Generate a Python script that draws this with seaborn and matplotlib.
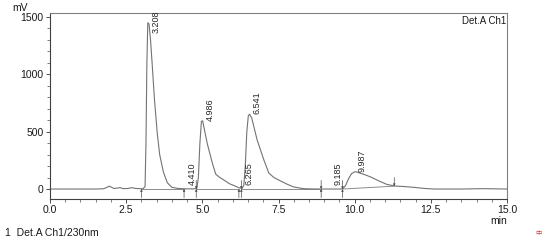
import matplotlib
matplotlib.use("Agg")
import matplotlib.pyplot as plt
import seaborn as sns
import pandas as pd
from matplotlib.ticker import MultipleLocator

# ---- data ----
time_min = [0.0, 1.5, 1.75, 1.85, 1.95, 2.02, 2.1, 2.2, 2.3, 2.4, 2.55, 2.7, 2.8, 2.95,
            3.05, 3.12, 3.15, 3.18, 3.21, 3.25, 3.30, 3.36, 3.43, 3.52, 3.60, 3.72, 3.85,
            4.0, 4.2, 4.4, 4.7, 4.82, 4.87, 4.92, 4.97, 5.01, 5.16, 5.33, 5.44, 5.55,
            5.71, 5.9, 6.04, 6.19, 6.3, 6.36, 6.41, 6.46, 6.51, 6.55, 6.62, 6.80, 7.02,
            7.18, 7.35, 7.57, 7.8, 8.0, 8.32, 8.7, 9.2, 9.55, 9.62, 9.7, 9.8, 9.9, 10.0,
            10.05, 10.3, 10.51, 10.8, 11.06, 11.33, 11.6, 11.93, 12.3, 12.6, 13.5, 14.2, 15.0]
signal_mv = [0, 0, 2, 12, 25, 15, 5, 8, 12, 3, 5, 12, 5, 3,
             2, 20, 400, 1100, 1450, 1440, 1300, 1064, 776, 488, 300, 150, 55,
             15, 5, 2, 1, 5, 100, 400, 590, 595, 398, 224, 130, 105,
             78, 45, 30, 12, 5, 30, 200, 500, 640, 652, 620, 427, 253,
             140, 100, 70, 40, 18, 3, 0, 0, 0, 5, 30, 90, 135, 150,
             150, 128, 107, 70, 40, 26, 22, 15, 5, 0, 0, 3, 0]

peak_rt = [3.208, 4.410, 4.986, 6.265, 6.541, 9.185, 9.987]
peak_label_mv = [1360, 35, 595, 35, 655, 35, 150]

baseline_start = [3.0, 4.8, 6.28, 9.6]
baseline_end = [4.4, 6.2, 8.9, 11.3]
baseline_start_mv = [0, 0, 0, 0]
baseline_end_mv = [0, 0, 0, 25]

up_marks = [3.0, 4.4, 4.8, 6.2, 6.28, 8.9, 9.6]
down_marks = [4.8, 6.28, 8.9, 9.6, 11.3]
down_marks_mv = [0, 0, 0, 0, 25]

df = pd.DataFrame({"time": time_min, "signal": signal_mv})

sns.set_style("ticks")
plt.rcParams["font.family"] = ["Liberation Sans", "DejaVu Sans"]

fig = plt.figure(figsize=(5.44, 2.40), dpi=100)
ax = fig.add_axes([50/544, 1-199/240, 457/544, 186/240])

# integration baselines
for x0, x1, y0, y1 in zip(baseline_start, baseline_end, baseline_start_mv, baseline_end_mv):
    ax.plot([x0, x1], [y0, y1], color="0.55", lw=0.7, zorder=1)

sns.lineplot(data=df, x="time", y="signal", ax=ax, color="0.45", lw=0.8,
             estimator=None, sort=False, zorder=2)

# peak markers
for t in up_marks:
    ax.annotate("", xy=(t, 0), xytext=(t, -75),
                arrowprops=dict(arrowstyle="-|>", lw=0.5, color="0.3", mutation_scale=3,
                                shrinkA=0, shrinkB=0))
for t, yv in zip(down_marks, down_marks_mv):
    ax.annotate("", xy=(t, yv), xytext=(t, yv + 75),
                arrowprops=dict(arrowstyle="-|>", lw=0.5, color="0.3", mutation_scale=3,
                                shrinkA=0, shrinkB=0))

# retention time labels
for rt, yv in zip(peak_rt, peak_label_mv):
    ax.text(rt + 0.26, yv, f"{rt:.3f}", rotation=90, ha="center", va="bottom",
            fontsize=6.5, color="0.15")

ax.set_xlim(0, 15)
ax.set_ylim(-87, 1535)
ax.xaxis.set_major_locator(MultipleLocator(2.5))
ax.xaxis.set_minor_locator(MultipleLocator(0.5))
ax.yaxis.set_major_locator(MultipleLocator(500))
ax.yaxis.set_minor_locator(MultipleLocator(100))
ax.xaxis.set_major_formatter(matplotlib.ticker.FormatStrFormatter("%.1f"))
ax.set_xlabel("")
ax.set_ylabel("")
ax.tick_params(axis="both", which="major", length=3, width=0.6, labelsize=7.5,
               color="0.2", labelcolor="0.1", pad=1.5)
ax.tick_params(axis="both", which="minor", length=2, width=0.5, color="0.3")
for s in ["left", "bottom"]:
    ax.spines[s].set_color("0.25")
    ax.spines[s].set_linewidth(0.8)
for s in ["top", "right"]:
    ax.spines[s].set_visible(True)
    ax.spines[s].set_color("0.5")
    ax.spines[s].set_linewidth(0.8)

ax.text(0.998, 0.985, "Det.A Ch1", transform=ax.transAxes, ha="right", va="top",
        fontsize=7, color="0.1")
fig.text(12/544, 1-8/240, "mV", ha="left", va="center", fontsize=7.5, color="0.1")
fig.text(507/544, 1-221/240, "min", ha="right", va="center", fontsize=7.5, color="0.1")
fig.text(5/544, 1-233/240, "1  Det.A Ch1/230nm", ha="left", va="center",
         fontsize=7.5, color="0.1")
fig.text(538/544, 1-233/240, "中", ha="center", va="center", fontsize=4.5,
         color="#d04040", family=["Noto Sans CJK SC", "DejaVu Sans"])

fig.savefig("out.png", dpi=100)
